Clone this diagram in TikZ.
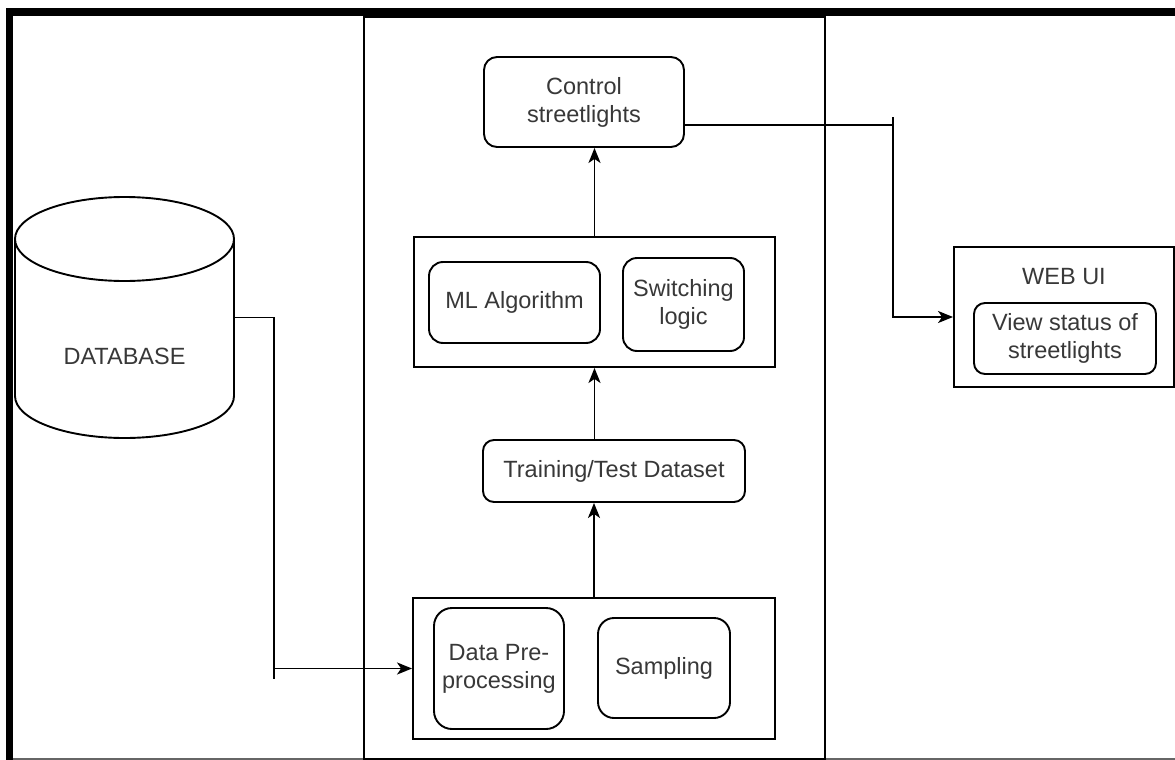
\documentclass[tikz,border=0pt]{standalone}
\usepackage{fontspec}
\setmainfont{Liberation Sans}
\usetikzlibrary{arrows.meta,calc}

\definecolor{ink}{HTML}{383838}

\tikzset{
  line/.style={draw=black, line width=1.9pt},
  box/.style={line, rectangle, inner sep=0pt, align=center, text=ink,
              font=\fontsize{23.5}{28}\selectfont},
  rbox/.style={box, rounded corners=14pt},
  arr/.style={line, -{Stealth[length=15pt,width=12pt,inset=4pt]}},
  lbl/.style={inner sep=0pt, text=ink, font=\fontsize{23.5}{28}\selectfont}
}

\begin{document}
\begin{tikzpicture}[x=1pt,y=-1pt]
\useasboundingbox (0,0) rectangle (1175,760);
\fill[white] (0,0) rectangle (1175,760);

% page frame
\draw[draw=black!60, line width=1.5pt] (6,759) -- (1180,759);
\draw[line width=7.5pt] (9.5,765) -- (9.5,12) -- (1180,12);

% processing column
\node[line, rectangle, inner sep=0pt, anchor=north west,
      minimum width=461pt, minimum height=742pt] (core) at (363,16) {};

% database cylinder
\node[inner sep=0pt, minimum width=219pt, minimum height=241pt] (db) at (124.5,317.5) {};
\draw[line] (124.5,239) ellipse [x radius=109.5, y radius=42];
\draw[line] (15,239) -- (15,396) arc [start angle=180, end angle=0, x radius=109.5, y radius=42] -- (234,239);
\node[lbl] (dblabel) at (124.5,356) {DATABASE};

% control stage
\node[rbox, rounded corners=13pt, minimum width=200pt, minimum height=90pt] (ctrl) at (584,102)
  {Control\\streetlights};

% model stage
\node[box, minimum width=361pt, minimum height=130pt] (ml) at (594.5,302) {};
\node[rbox, minimum width=171pt, minimum height=81pt] (mlalg) at (514.5,302.5) {ML Algorithm};
\node[rbox, minimum width=121pt, minimum height=93pt] (switch) at (683.5,304.5) {Switching\\logic};

% dataset stage
\node[rbox, rounded corners=11pt, minimum width=262pt, minimum height=62pt] (train) at (614,471)
  {Training/Test Dataset};

% preparation stage
\node[box, minimum width=362pt, minimum height=141pt] (pre) at (594,668.5) {};
\node[rbox, rounded corners=18pt, minimum width=130pt, minimum height=121pt] (prep) at (499,668.5)
  {Data Pre-\\processing};
\node[rbox, rounded corners=16pt, minimum width=132pt, minimum height=100pt] (samp) at (664,668)
  {Sampling};

% web interface
\node[box, minimum width=220pt, minimum height=140pt] (web) at (1064,317) {};
\node[lbl] (weblabel) at (1064,277) {WEB UI};
\node[rbox, rounded corners=11pt, minimum width=182pt, minimum height=71pt] (webin) at (1065,338.5)
  {View status of\\streetlights};

% flow
\coordinate (bendA) at (274,668.5);
\coordinate (bendB) at (893,125);
\draw[arr] (db.east) -| (bendA) -- (pre.west);
\draw[line] (bendA) -- ++(0,10);
\draw[arr] (pre.north) -- (pre.north |- train.south);
\draw[arr] (ml.south |- train.north) -- (ml.south);
\draw[arr] (ml.north) -- (ml.north |- ctrl.south);
\draw[arr] ([yshift=-23pt]ctrl.east) -- (bendB) |- (web.west);
\draw[line] (bendB) -- ++(0,-8);
\end{tikzpicture}
\end{document}
